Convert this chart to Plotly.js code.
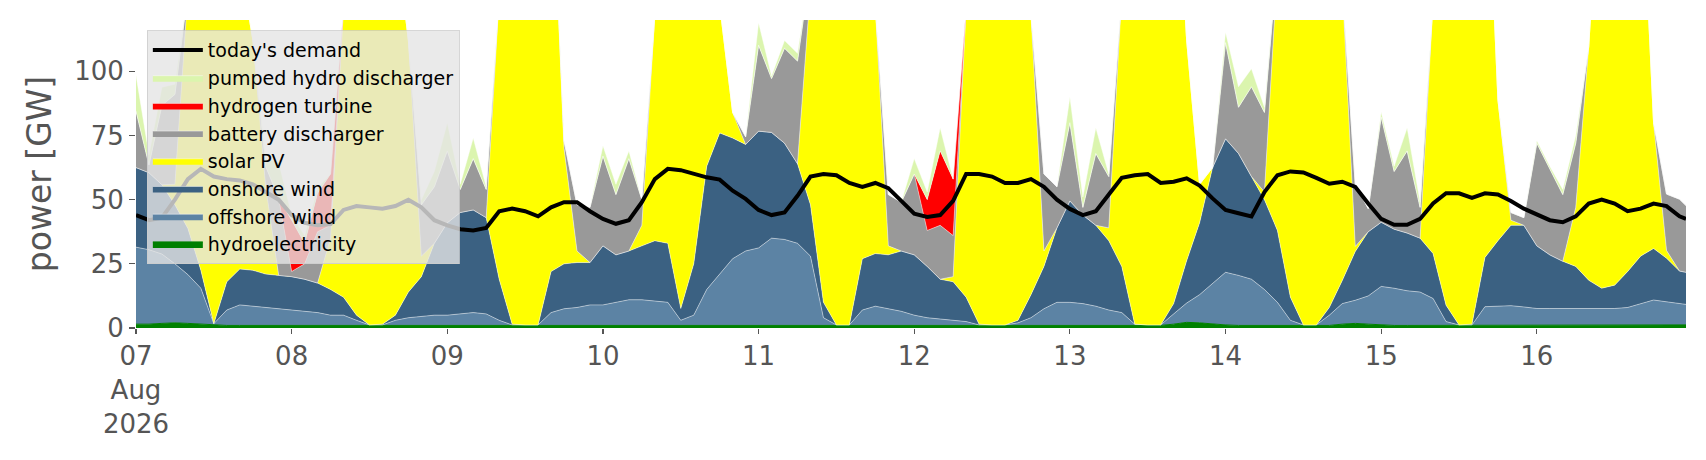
<!DOCTYPE html>
<html>
<head>
<meta charset="utf-8">
<script src="https://cdn.plot.ly/plotly-3.0.1.min.js"></script>
<style>
  html, body { margin: 0; padding: 0; background: #fff; }
  #chart { width: 1706px; height: 460px; }
</style>
</head>
<body>
<div id="chart"></div>
<script>
// two-hourly samples from 07 Aug 2026 00:00, last one at 16 Aug 23:00
const hoursFromStart = [
  0, 2, 4, 6, 8, 10, 12, 14, 16, 18, 20, 22,
  24, 26, 28, 30, 32, 34, 36, 38, 40, 42, 44, 46,
  48, 50, 52, 54, 56, 58, 60, 62, 64, 66, 68, 70,
  72, 74, 76, 78, 80, 82, 84, 86, 88, 90, 92, 94,
  96, 98, 100, 102, 104, 106, 108, 110, 112, 114, 116, 118,
  120, 122, 124, 126, 128, 130, 132, 134, 136, 138, 140, 142,
  144, 146, 148, 150, 152, 154, 156, 158, 160, 162, 164, 166,
  168, 170, 172, 174, 176, 178, 180, 182, 184, 186, 188, 190,
  192, 194, 196, 198, 200, 202, 204, 206, 208, 210, 212, 214,
  216, 218, 220, 222, 224, 226, 228, 230, 232, 234, 236, 238, 239
];

const hydroelectricity = [
  1.5, 1.5, 1.8, 2, 1.8, 1.5, 1.2, 1, 1, 1, 1, 1,
  1, 1, 1, 1, 1, 1, 1, 1, 1, 1, 1, 1,
  1, 1, 1, 1, 1, 1, 1, 1, 1, 1, 1, 1,
  1, 1, 1, 1, 1, 1, 1, 1, 1, 1, 1, 1,
  1.2, 1.2, 1, 1, 1, 1, 1, 1, 1, 1, 1, 1,
  1, 1, 1, 1, 1, 1, 1, 1, 1, 1, 1, 1,
  1, 1, 1, 1, 1, 1, 1, 1, 1.5, 2.2, 2, 1.5,
  1.2, 1, 1, 1, 1, 1, 1, 1, 1, 1.5, 1.8, 1.5,
  1.2, 1, 1, 1, 1, 1, 1, 1, 1, 1, 1, 1,
  1, 1, 1, 1, 1, 1, 1, 1, 1, 1, 1.2, 1.2, 1.2
];

const offshoreWind = [
  30, 29, 27, 23, 19, 14, 0.5, 6, 8, 7.5, 7, 6.5,
  6, 5.5, 5, 4, 4, 2, 0.2, 0.2, 2, 3, 3.5, 4,
  4, 4.5, 5, 4.5, 2, 0.2, 0.2, 0.2, 5, 6.5, 7, 8,
  8, 9, 10, 10, 9.5, 9, 2, 4, 14, 20, 26, 29,
  30, 33.8, 33.5, 32, 27, 3, 0.2, 0.2, 6, 7.5, 6.6, 5.5,
  4, 3, 2.5, 2, 1.5, 0.2, 0.2, 0.2, 1, 3, 6.5, 9,
  9, 8.5, 7.5, 6, 5, 0.5, 0.2, 0.2, 4, 7.5, 11, 16,
  20.5, 19.5, 18, 14, 9, 2, 0.2, 0.2, 4, 8, 9, 11,
  15, 14.5, 13.5, 13, 10.5, 1.5, 0.2, 0.2, 7.3, 7.5, 7.7, 7.2,
  6.6, 6.6, 6.6, 6.6, 6.6, 6.6, 6.6, 7, 8.5, 9.9, 9, 8.3, 8
];

const onshoreWind = [
  31, 30, 27, 23, 18, 7, 0, 11, 14, 14, 13, 13,
  13, 12.5, 11.5, 10, 7, 2, 0, 0.3, 2, 10, 15.5, 28,
  36, 39.5, 40, 37.5, 16, 0.3, 0, 0, 16, 17.5, 17.5, 16.5,
  23, 18.5, 19, 21, 23.5, 23, 4.6, 20, 48, 55, 47, 41.5,
  45.5, 41.2, 37.5, 31, 20, 6, 0, 0, 20, 20.5, 20.9, 23.5,
  23.5, 20, 15.5, 15, 9.5, 0.3, 0, 0, 1, 9, 16.5, 29,
  39.5, 34.5, 31.5, 27, 18, 0, 0, 0, 4, 16.5, 28, 45,
  52, 47.5, 40, 35, 28, 9, 0, 0, 3, 9, 19, 25,
  25, 23, 22.5, 21, 17.5, 6.4, 0, 0.3, 19.2, 25.5, 31.3, 31.8,
  24.4, 20.9, 18.4, 16.4, 11, 7.9, 9.1, 14, 18.5, 20.1, 17, 12.7, 12.5
];

const solarPV = [
  0, 0, 0, 8, 92, 170, 200, 190, 120, 90, 34, 0,
  0, 0, 0, 20, 113, 170, 190, 190, 150, 98, 8, 0,
  0, 0, 0, 0, 110, 180, 200, 200, 170, 45, 4.5, 0,
  0, 0, 0, 8, 88, 170, 200, 170, 120, 50, 10, 0,
  0, 0, 0, 0, 92, 190, 200, 200, 180, 96, 3.5, 0,
  0, 0, 0, 2, 113, 190, 200, 200, 190, 109, 6, 0,
  0, 0, 0, 5, 106, 190, 200, 200, 190, 86, 15, 0,
  0, 0, 0, 3, 102, 190, 200, 200, 190, 115, 2, 0,
  0, 0, 0, 0, 98, 180, 200, 200, 180, 55, 2, 0,
  0, 0, 0, 23, 91, 180, 180, 170, 160, 49, 3, 0, 0
];

const batteryDischarger = [
  22, 3, 31, 35, 0, 0, 0, 0, 0, 0, 8, 30,
  2, 6, 20, 5, 0, 0, 0, 0, 0, 0, 20, 22,
  28, 9, 20, 11, 0, 0, 0, 0, 0, 3, 18, 21.5,
  35, 23.5, 36, 10, 0, 0, 0, 0, 0, 0, 0, 3,
  33.5, 21, 37, 40, 0, 0, 0, 0, 0, 0, 20, 19,
  31.5, 14, 21, 16, 0, 0, 0, 0, 0, 0, 30, 16,
  30.5, 3, 28, 20, 0, 0, 0, 0, 0, 0, 0, 0,
  37.5, 18, 35, 31, 0, 0, 0, 0, 0, 0, 24, 9,
  41, 22.5, 32, 12, 0, 0, 0, 0, 0, 0, 3, 3,
  40, 33.5, 26, 25, 0, 0, 0, 0, 0, 0, 22, 28, 26
];

const hydrogenTurbine = [
  0, 0, 0, 0, 0, 0, 0, 0, 0, 0, 0, 0,
  20, 8, 15, 20, 0, 0, 0, 0, 0, 0, 0, 0,
  0, 0, 0, 0, 0, 0, 0, 0, 0, 0, 0, 0,
  0, 0, 0, 0, 0, 0, 0, 0, 0, 0, 0, 0,
  0, 0, 0, 0, 0, 0, 0, 0, 0, 0, 0, 0,
  0, 12, 29, 22, 0, 0, 0, 0, 0, 0, 0, 0,
  0, 0, 0, 0, 0, 0, 0, 0, 0, 0, 0, 0,
  0, 0, 0, 0, 0, 0, 0, 0, 0, 0, 0, 0,
  0, 0, 0, 0, 0, 0, 0, 0, 0, 0, 0, 0,
  0, 0, 0, 0, 0, 0, 0, 0, 0, 0, 0, 0, 0
];

const pumpedHydroDischarger = [
  14, 4, 7, 4, 0, 0, 0, 0, 0, 0, 3, 14,
  2, 3, 2, 0, 0, 0, 0, 0, 0, 0, 2, 6,
  11, 2, 8, 1, 0, 0, 0, 0, 0, 0, 0, 0,
  4, 4, 3, 0, 0, 0, 0, 0, 0, 0, 0, 0,
  8.7, 1, 3, 3, 0, 0, 0, 0, 0, 0, 0, 0,
  6, 3, 9, 0, 0, 0, 0, 0, 0, 0, 0, 0,
  10, 4, 10, 1, 0, 0, 0, 0, 0, 0, 0, 0,
  4, 8, 7, 2, 0, 0, 0, 0, 0, 0, 0, 0,
  2, 2, 9, 2, 0, 0, 0, 0, 0, 0, 0, 0,
  1, 1, 2, 3, 0, 0, 0, 0, 0, 0, 0, 0, 0
];

const todaysDemand = [
  44, 42, 43, 50, 58, 62, 59, 58, 57.5, 56, 53, 50,
  44, 41, 40, 40.5, 46, 47.5, 47, 46.5, 47.5, 50, 47, 42,
  40, 38.5, 38, 39, 45.5, 46.5, 45.5, 43.5, 47, 49, 49, 45.5,
  42.5, 40.6, 42, 49, 58, 62, 61.5, 60, 58.7, 57.8, 53.5, 50.3,
  46, 44, 45, 51.5, 59, 60, 59.5, 56.5, 55, 56.5, 54.5, 49.5,
  44.5, 43.3, 44, 49.5, 60, 60, 59, 56.5, 56.5, 58, 55, 50,
  46.4, 44, 45.5, 52, 58.5, 59.5, 60, 56.5, 57, 58.3, 55.5, 50.5,
  46, 44.7, 43.5, 53, 59.5, 61, 60.6, 58.5, 56.2, 57, 55, 48.5,
  42.5, 40.2, 40.2, 42.5, 48.5, 52.5, 52.5, 50.7, 52.5, 52, 49.5, 46.5,
  44.4, 42, 41.2, 43.5, 48.5, 50, 48.5, 45.5, 46.5, 48.5, 47.5, 43.5, 42.5
];

const dayTicks = ['2026-08-07', '2026-08-08', '2026-08-09', '2026-08-10', '2026-08-11',
  '2026-08-12', '2026-08-13', '2026-08-14', '2026-08-15', '2026-08-16'];
const dayTickText = ['07<br>Aug<br>2026', '08', '09', '10', '11', '12', '13', '14', '15', '16'];

const START = Date.UTC(2026, 7, 7, 0);
const times = hoursFromStart.map(h =>
  new Date(START + h * 3600 * 1000).toISOString().slice(0, 19).replace('T', ' ')
);

const FONT = 'DejaVu Sans, Verdana, sans-serif';
const seam = { width: 0.6, color: 'rgba(255,255,255,0.75)' };

// bottom to top of the stack
const stack = [
  { name: 'hydroelectricity', y: hydroelectricity, color: '#008000', rank: 8, line: { width: 1, color: '#008000' } },
  { name: 'offshore wind', y: offshoreWind, color: '#5c83a4', rank: 7 },
  { name: 'onshore wind', y: onshoreWind, color: '#3b6182', rank: 6 },
  { name: 'solar PV', y: solarPV, color: '#ffff00', rank: 5 },
  { name: 'battery discharger', y: batteryDischarger, color: '#999999', rank: 4 },
  { name: 'hydrogen turbine', y: hydrogenTurbine, color: '#ff0000', rank: 3 },
  { name: 'pumped hydro discharger', y: pumpedHydroDischarger, color: '#dbf5ae', rank: 2 },
];

const areaTraces = stack.map(s => ({
  type: 'scatter',
  mode: 'lines',
  name: s.name,
  x: times,
  y: s.y,
  stackgroup: 'supply',
  fillcolor: s.color,
  line: s.line || seam,
  legendrank: s.rank,
  hoverinfo: 'skip',
}));

const demandTrace = {
  type: 'scatter',
  mode: 'lines',
  name: "today's demand",
  x: times,
  y: todaysDemand,
  line: { color: '#000000', width: 4 },
  legendrank: 1,
  hoverinfo: 'skip',
};

const axisFont = { family: FONT, size: 26, color: '#555555' };

const layout = {
  width: 1706,
  height: 460,
  margin: { l: 136, r: 20, t: 20, b: 132 },
  paper_bgcolor: '#ffffff',
  plot_bgcolor: '#ffffff',
  font: { family: FONT },
  showlegend: true,
  legend: {
    x: 0.007,
    y: 0.967,
    xanchor: 'left',
    yanchor: 'top',
    bgcolor: 'rgba(229,229,229,0.8)',
    bordercolor: 'rgba(204,204,204,0.8)',
    borderwidth: 1,
    font: { family: FONT, size: 19, color: '#000000' },
    traceorder: 'normal',
    itemwidth: 50,
    tracegroupgap: 0,
  },
  xaxis: {
    type: 'date',
    range: [times[0], times[times.length - 1]],
    tickvals: dayTicks,
    ticktext: dayTickText,
    ticks: 'outside',
    ticklen: 5,
    tickwidth: 1.2,
    tickcolor: '#555555',
    tickfont: axisFont,
    showgrid: false,
    showline: false,
    zeroline: false,
  },
  yaxis: {
    range: [0, 120],
    tickvals: [0, 25, 50, 75, 100],
    ticks: 'outside',
    ticklen: 6,
    tickwidth: 1.2,
    tickcolor: '#555555',
    tickfont: axisFont,
    showgrid: false,
    showline: false,
    zeroline: false,
    title: { text: 'power [GW]', font: { family: FONT, size: 33, color: '#555555' }, standoff: 12 },
  },
};

Plotly.newPlot('chart', [...areaTraces, demandTrace], layout, { displayModeBar: false, staticPlot: true });
</script>
</body>
</html>
